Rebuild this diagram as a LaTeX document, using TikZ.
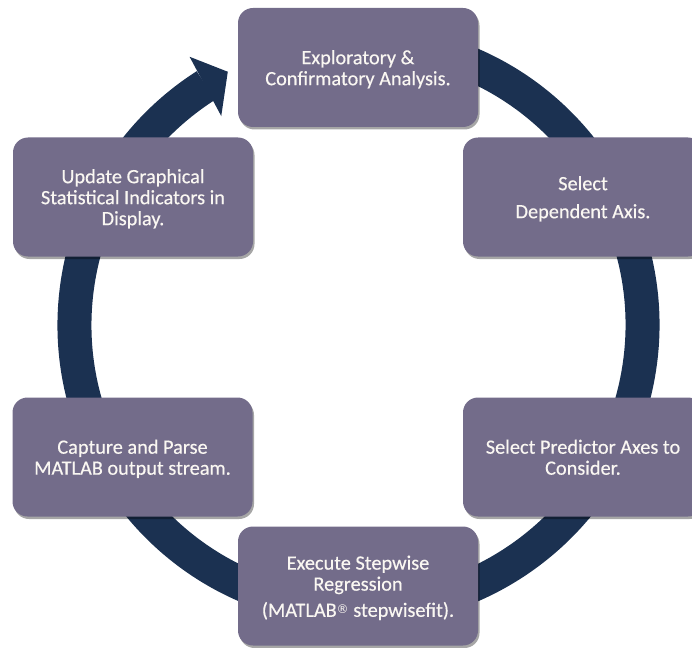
\documentclass[tikz,border=0pt]{standalone}
\usepackage{fontspec}
\setmainfont{Carlito}
\newfontfamily\boxfont{Carlito}[FakeBold=0.35]
\newfontfamily\symfont{DejaVu Sans}
\usetikzlibrary{shadows,calc}
\definecolor{boxcol}{HTML}{736C8A}
\definecolor{ringcol}{HTML}{1B3151}
\definecolor{txtcol}{HTML}{FAF7F2}
\newcommand{\regmark}{{\symfont\fontsize{12}{12}\selectfont\raisebox{0.45ex}{®}}}
\newcommand{\boxtext}[1]{\raisebox{-3pt}[\height][\depth]{\begin{tabular}{@{}c@{}}#1\end{tabular}}}
\tikzset{
  stepbox/.style={rectangle, rounded corners=15pt, fill=boxcol,
    minimum width=240pt, minimum height=119pt, inner sep=4pt,
    text=txtcol,
    font=\boxfont\fontsize{20.3}{21}\selectfont,
    drop shadow={shadow xshift=1.5pt, shadow yshift=-2.5pt, opacity=0.35, fill=black}},
  ring/.style={line width=34pt, ringcol},
}
\begin{document}
\begin{tikzpicture}[x=1pt,y=1pt]
\useasboundingbox (0,0) rectangle (692,-647);
\clip (0,0) rectangle (692,-647);
\coordinate (C) at (358.5,-325);
% cycle ring with arrow head
\draw[ring] ($(C)+(80:284)$) arc (80:-237.5:284);
\fill[ringcol] ($(C)+(123.3:250)$) -- ($(C)+(117.3:285)$) -- ($(C)+(122.2:317)$) -- cycle;
% boxes
\node[stepbox] (explore) at (358,-67.5) {\boxtext{Exploratory \&\\Confirmatory Analysis.}};
\node[stepbox] (dep) at (583,-197) {\boxtext{Select\\[7pt]Dependent Axis.}};
\node[stepbox] (pred) at (583,-457) {\boxtext{Select Predictor Axes to\\Consider.}};
\node[stepbox] (exec) at (358,-586) {\boxtext{Execute Stepwise\\Regression\\[5pt](MATLAB\regmark\ stepwisefit).}};
\node[stepbox] (parse) at (132.5,-457) {\boxtext{Capture and Parse\\MATLAB output stream.}};
\node[stepbox] (update) at (133,-197) {\boxtext{Update Graphical\\Statistical Indicators in\\Display.}};
\end{tikzpicture}
\end{document}
